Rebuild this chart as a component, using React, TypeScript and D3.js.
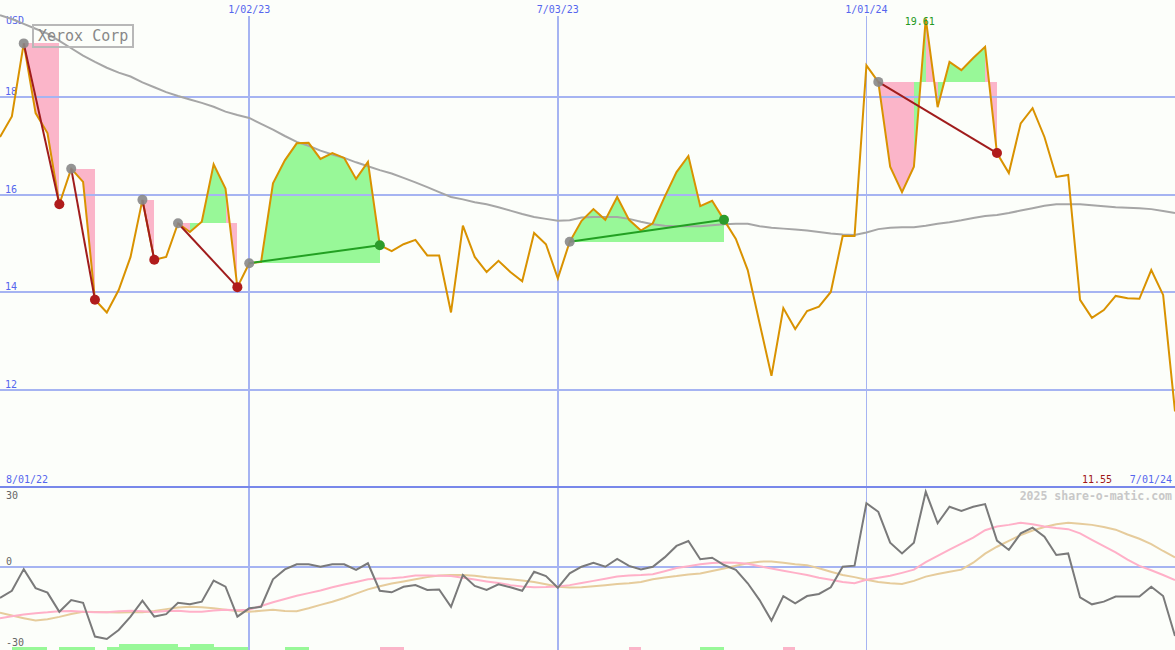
import React from 'react';
import * as d3 from 'd3';

const W = 1175;
const H = 650;

// Weekly closes, first week 8/08/22
const startDate = new Date(2022, 7, 8);

const price = [
  17.18, 17.6, 19.1, 17.67, 17.26, 15.8, 16.53, 16.26, 13.84, 13.58,
  14.04, 14.72, 15.89, 14.66, 14.72, 15.41, 15.23, 15.44, 16.62, 16.12,
  14.1, 14.59, 14.62, 16.23, 16.7, 17.05, 17.06, 16.73, 16.85, 16.75,
  16.32, 16.67, 14.96, 14.84, 14.98, 15.07, 14.75, 14.75, 13.58, 15.36,
  14.72, 14.41, 14.64, 14.41, 14.22, 15.21, 14.98, 14.28, 15.03, 15.46,
  15.7, 15.48, 15.95, 15.48, 15.26, 15.41, 15.95, 16.46, 16.79, 15.76,
  15.87, 15.48, 15.09, 14.45, 13.36, 12.28, 13.67, 13.24, 13.61, 13.7,
  14.0, 15.15, 15.15, 18.65, 18.31, 16.57, 16.05, 16.57, 19.61, 17.79,
  18.72, 18.55, 18.8, 19.03, 16.85, 16.44, 17.46, 17.77, 17.18, 16.36,
  16.4, 13.84, 13.47, 13.63, 13.92, 13.87, 13.86, 14.45, 13.94, 11.55,
];

const movingAvg = [
  19.68, 19.6, 19.5, 19.4, 19.3, 19.15, 19.0, 18.85, 18.72, 18.6,
  18.5, 18.42, 18.3, 18.2, 18.1, 18.02, 17.95, 17.88, 17.8, 17.7,
  17.63, 17.57, 17.45, 17.33, 17.2, 17.08, 17.0, 16.9, 16.82, 16.75,
  16.66, 16.58, 16.5, 16.43, 16.34, 16.25, 16.15, 16.05, 15.95, 15.9,
  15.84, 15.8, 15.74, 15.67, 15.6, 15.54, 15.5, 15.46, 15.47, 15.53,
  15.54, 15.54, 15.54, 15.5, 15.44, 15.39, 15.36, 15.35, 15.35, 15.35,
  15.37, 15.39, 15.4, 15.4, 15.35, 15.32, 15.3, 15.28, 15.26, 15.23,
  15.2, 15.18, 15.17, 15.22, 15.29, 15.32, 15.33, 15.33, 15.36, 15.4,
  15.43, 15.47, 15.52, 15.56, 15.58, 15.62, 15.67, 15.72, 15.77, 15.8,
  15.8, 15.8, 15.78, 15.76, 15.74, 15.73, 15.72, 15.7, 15.66, 15.62,
];

const oscillator = [
  -11.6, -8.9, -0.8, -7.9, -9.6, -16.8, -12.4, -13.4, -26.1, -27,
  -23.6, -18.6, -12.6, -18.6, -17.7, -13.4, -14, -13, -5.1, -7.4,
  -18.6, -15.5, -14.9, -4.6, -0.9, 1.0, 1.0, 0.1, 1.0, 1.0,
  -1.1, 1.4, -8.9, -9.5, -7.4, -6.75, -8.6, -8.4, -14.9, -3,
  -7.1, -8.6, -6.5, -7.6, -8.9, -1.8, -3.4, -7.8, -2.4, 0.1,
  1.6, 0.1, 3.0, 0.4, -0.9, 0.1, 3.6, 7.9, 9.75, 2.9,
  3.5, 0.75, -1.1, -6.1, -12.4, -20.1, -10.9, -13.6, -10.9, -10.1,
  -7.6, 0.1, 0.5, 23.9, 20.7, 9.1, 5.1, 9.1, 28.2, 16.4,
  22.6, 21, 22.6, 23.6, 9.9, 6.4, 12.6, 14.75, 11.4, 4.5,
  5.1, -11.4, -14, -13, -11.1, -11.1, -11.1, -7.4, -10.9, -25.9,
];

const oscFast = [
  -19.2, -18.5, -17.8, -17.3, -17, -16.6, -16.5, -16.8, -17.0, -17.0,
  -16.6, -16.4, -16.6, -16.9, -16.5, -16.4, -16.8, -16.8, -16.3, -16,
  -16.2, -16.0, -14.6, -13.2, -12, -10.8, -9.8, -8.8, -7.6, -6.6,
  -5.6, -4.6, -4.3, -4.2, -3.8, -3.2, -3.2, -3.3, -3.4, -4,
  -4.7, -5.4, -6, -6.8, -7.3, -7.6, -7.5, -7.3, -6.8, -6,
  -5.2, -4.4, -3.6, -3.2, -3, -2.7, -1.6, -0.4, 0.3, 1.0,
  1.5, 1.7, 1.6, 1.2, 0.3, -0.6, -1.4, -2.2, -3, -4,
  -4.8, -5.6, -6.1, -4.8, -4, -3.3, -2.2, -1, 1.8, 4.2,
  6.5, 8.8, 11, 13.8, 15.2, 15.8, 16.6, 16, 15.2, 14.6,
  14.2, 12.6, 10.2, 7.8, 5.5, 2.8, 0.4, -1.2, -3, -4.9,
];

const oscSlow = [
  -17.1, -18.2, -19.2, -20.1, -19.6, -18.7, -17.6, -16.8, -16.9, -17,
  -17.1, -17, -17, -16.5, -15.8, -15.2, -14.9, -15.1, -15.5, -16,
  -16.5, -16.8, -16.4, -16.0, -16.5, -16.6, -15.5, -14.2, -13, -11.6,
  -10, -8.4, -7.2, -6.2, -5.4, -4.6, -3.8, -3.2, -3, -3,
  -3.3, -3.8, -4.2, -4.6, -5.1, -5.6, -6.5, -7.4, -7.7, -7.6,
  -7.2, -6.8, -6.4, -6.1, -5.6, -4.6, -3.9, -3.4, -2.8, -2.4,
  -1.5, -0.6, 0.5, 1.4, 2.0, 2.1, 1.6, 1.0, 0.7, -0.5,
  -1.8, -3, -3.8, -4.8, -5.6, -6.1, -6.4, -5.2, -3.6, -2.6,
  -1.8, -1.0, 1.6, 5, 7.6, 9.8, 12, 13.7, 15, 16,
  16.6, 16.2, 15.8, 15, 14, 12.2, 10.6, 8.6, 6, 3.6,
];

// weekly signal strip: 2 strong buy, 1 buy, -1 sell, 0 none
const signal = [
  0, 1, 1, 1, 0, 1, 1, 1, 0, 1,
  2, 2, 2, 2, 2, 1, 2, 2, 1, 1,
  1, 0, 0, 0, 1, 1, 0, 0, 0, 0,
  0, 0, -1, -1, 0, 0, 0, 0, 0, 0,
  0, 0, 0, 0, 0, 0, 0, 0, 0, 0,
  0, 0, 0, -1, 0, 0, 0, 0, 0, 1,
  1, 0, 0, 0, 0, 0, -1, 0, 0, 0,
  0, 0, 0, 0, 0, 0, 0, 0, 0, 0,
  0, 0, 0, 0, 0, 0, 0, 0, 0, 0,
  0, 0, 0, 0, 0, 0, 0, 0, 0, 0,
];

// trend patterns: start index, end index
const patternStarts = [2, 6, 12, 15, 21, 48, 74];
const patternEnds = [5, 8, 13, 20, 32, 61, 84];

const priceTicks = [12, 14, 16, 18];
const oscTicks = [30, 0, -30];
const dateTickLabels = ['1/02/23', '7/03/23', '1/01/24'];
const dateTickDates = [new Date(2023, 0, 2), new Date(2023, 6, 3), new Date(2024, 0, 1)];
const dateTickWidths = [2, 2, 1];

const MONO = '"DejaVu Sans Mono", "Liberation Mono", monospace';
const GRID = '#a6b4f2';
const BLUE_TXT = '#5566ee';
const PINK = '#fbb5c9';
const GREEN = '#98f898';

export default function App() {
  const dates = price.map((_, i) => d3.timeDay.offset(startDate, 7 * i));
  const x = d3.scaleTime().domain([dates[0], dates[dates.length - 1]]).range([0, W]);
  const yP = d3.scaleLinear().domain([10, 20]).range([487, -0.5]);
  const yO = d3.scaleLinear().domain([-30, 30]).range([647, 487]);

  const lineP = d3.line<number>().x((_, i) => x(dates[i])).y((d) => yP(d));
  const lineO = d3.line<number>().x((_, i) => x(dates[i])).y((d) => yO(d));
  const poly = d3.line<[number, number]>();

  const fills: { d: string; c: string }[] = [];
  patternStarts.forEach((s, k) => {
    const e = patternEnds[k];
    const L = price[s];
    for (let i = s; i < e; i++) {
      const pts: [number, number][] = [
        [x(dates[i]), yP(L)],
        [x(dates[i]), yP(price[i])],
        [x(dates[i + 1]), yP(price[i + 1])],
        [x(dates[i + 1]), yP(L)],
      ];
      fills.push({ d: poly(pts) + 'Z', c: price[i + 1] >= L ? GREEN : PINK });
    }
  });

  const maxIdx = d3.maxIndex(price);
  const last = price[price.length - 1];
  const step = x(dates[1]) - x(dates[0]);

  return (
    <svg width={W} height={H} style={{ position: 'absolute', left: 0, top: 0, background: '#fcfefa' }}>
      <rect x={0} y={0} width={W} height={H} fill="#fcfefa" />

      {/* fills */}
      <g shapeRendering="crispEdges">
        {fills.map((f, i) => (
          <path key={i} d={f.d} fill={f.c} stroke="none" />
        ))}
      </g>

      {/* signal strip */}
      <g shapeRendering="crispEdges">
        {signal.map((s, i) =>
          s === 0 ? null : (
            <rect
              key={i}
              x={x(dates[i])}
              y={s === 2 ? H - 6 : H - 3}
              width={step}
              height={s === 2 ? 6 : 3}
              fill={s > 0 ? GREEN : PINK}
            />
          )
        )}
      </g>

      {/* grid */}
      <g shapeRendering="crispEdges">
        {priceTicks.map((t) => (
          <line key={t} x1={0} x2={W} y1={yP(t)} y2={yP(t)} stroke={GRID} strokeWidth={2} />
        ))}
        <line x1={0} x2={W} y1={yO(0)} y2={yO(0)} stroke={GRID} strokeWidth={2} />
        {dateTickDates.map((d, i) => (
          <line key={i} x1={x(d)} x2={x(d)} y1={16} y2={H} stroke={GRID} strokeWidth={dateTickWidths[i]} />
        ))}
        <line x1={0} x2={W} y1={487} y2={487} stroke="#7888ea" strokeWidth={2} />
      </g>

      {/* labels */}
      <g fontFamily={MONO} fontSize={10}>
        {dateTickDates.map((d, i) => (
          <text key={i} x={x(d)} y={13} textAnchor="middle" fill={BLUE_TXT}>
            {dateTickLabels[i]}
          </text>
        ))}
        <text x={6} y={24} fill={BLUE_TXT}>USD</text>
        {priceTicks.map((t) => (
          <text key={t} x={5} y={yP(t) - 2} fill={BLUE_TXT}>{t}</text>
        ))}
        <text x={6} y={483} fill={BLUE_TXT}>8/01/22</text>
        <text x={1172} y={483} textAnchor="end" fill={BLUE_TXT}>7/01/24</text>
        <text x={1097} y={483} textAnchor="middle" fill="#a01818">{last.toFixed(2)}</text>
        {oscTicks.map((t) => (
          <text key={t} x={6} y={t === 30 ? 499 : t === 0 ? 565 : 646} fill="#666">{t}</text>
        ))}
      </g>
      <text x={1172} y={500} textAnchor="end" fontFamily={MONO} fontSize={11.5} fontWeight="bold" fill="#c8c8c8">
        2025 share-o-matic.com
      </text>

      {/* price panel lines */}
      <path d={lineP(movingAvg) ?? ''} fill="none" stroke="#a6a6a6" strokeWidth={2} />
      <path d={lineP(price) ?? ''} fill="none" stroke="#d99200" strokeWidth={2} strokeLinejoin="miter" />

      {/* trend lines and markers */}
      {patternStarts.map((s, k) => {
        const e = patternEnds[k];
        const up = price[e] > price[s];
        const col = up ? '#22a022' : '#a01c1c';
        return (
          <g key={k}>
            <line
              x1={x(dates[s])}
              y1={yP(price[s])}
              x2={x(dates[e])}
              y2={yP(price[e])}
              stroke={col}
              strokeWidth={2}
            />
            <circle cx={x(dates[s])} cy={yP(price[s])} r={5} fill="#888" opacity={0.9} />
            <circle cx={x(dates[e])} cy={yP(price[e])} r={5} fill={up ? '#2c9c2c' : '#b01c1c'} />
          </g>
        );
      })}

      <text
        x={x(dates[maxIdx]) - 6}
        y={25}
        textAnchor="middle"
        fontFamily={MONO}
        fontSize={10}
        fill="#229922"
      >
        {price[maxIdx].toFixed(2)}
      </text>

      {/* title box */}
      <rect x={33} y={25} width={100} height={22} fill="none" stroke="#b8b8b8" strokeWidth={2} />
      <text x={38} y={41} fontFamily={MONO} fontSize={15} fill="#888">Xerox Corp</text>

      {/* oscillator panel */}
      <path d={lineO(oscSlow) ?? ''} fill="none" stroke="#e6cc9c" strokeWidth={2} />
      <path d={lineO(oscFast) ?? ''} fill="none" stroke="#ffb0c8" strokeWidth={2} />
      <path d={lineO(oscillator) ?? ''} fill="none" stroke="#7a7a7a" strokeWidth={2} />
    </svg>
  );
}
